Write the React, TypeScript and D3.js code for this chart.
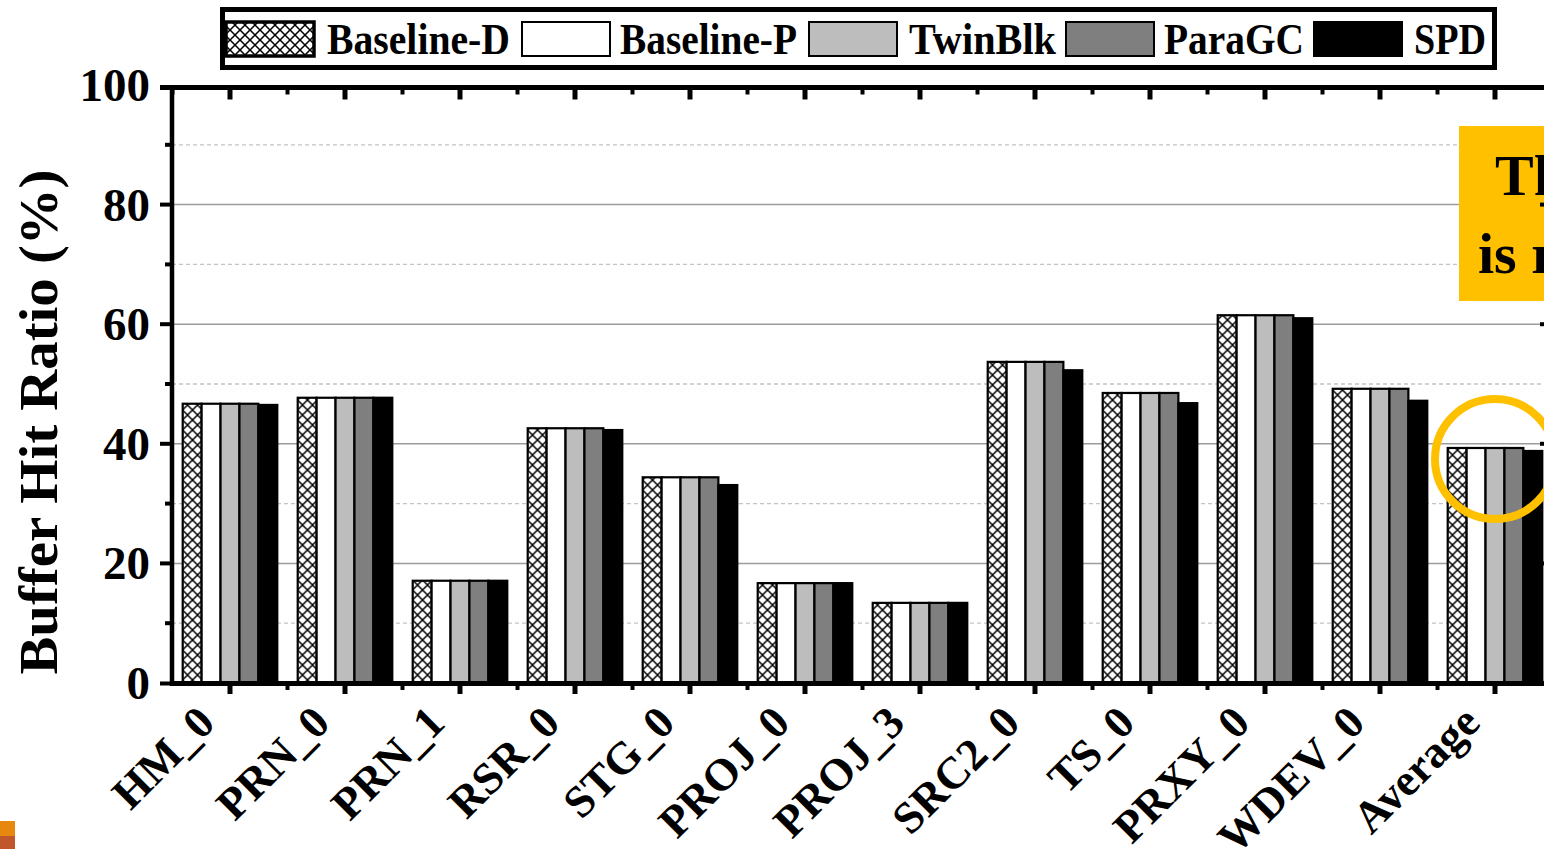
import React from "react";
import * as d3 from "d3";

const categories = ["HM_0", "PRN_0", "PRN_1", "RSR_0", "STG_0", "PROJ_0", "PROJ_3", "SRC2_0", "TS_0", "PRXY_0", "WDEV_0", "Average"];
const seriesNames = ["Baseline-D", "Baseline-P", "TwinBlk", "ParaGC", "SPD"];
const baselineD = [46.7, 47.7, 17.1, 42.6, 34.4, 16.7, 13.4, 53.7, 48.5, 61.5, 49.2, 39.3];
const baselineP = [46.7, 47.7, 17.1, 42.6, 34.4, 16.7, 13.4, 53.7, 48.5, 61.5, 49.2, 39.3];
const twinBlk = [46.7, 47.7, 17.1, 42.6, 34.4, 16.7, 13.4, 53.7, 48.5, 61.5, 49.2, 39.3];
const paraGC = [46.7, 47.7, 17.1, 42.6, 34.4, 16.7, 13.4, 53.7, 48.5, 61.5, 49.2, 39.3];
const spd = [46.5, 47.7, 17.1, 42.3, 33.1, 16.7, 13.4, 52.3, 46.8, 61.0, 47.2, 38.8];
const yTicks = [0, 20, 40, 60, 80, 100];
const yMinorTicks = [10, 30, 50, 70, 90];
const yLabel = "Buffer Hit Ratio (%)";
const calloutLines = ["The", "is r"];

const seriesValues = [baselineD, baselineP, twinBlk, paraGC, spd];
const fills = ["url(#xhatch)", "#ffffff", "#bdbdbd", "#7f7f7f", "#000000"];
const FONT = "'Liberation Serif', 'Times New Roman', serif";

export default function App() {
  const x = d3.scaleBand<string>().domain(categories).range([172.5, 172.5 + 115 * categories.length]);
  const xs = d3.scaleBand<string>().domain(seriesNames).range([0, x.bandwidth()]).paddingOuter(0.54);
  const y = d3.scaleLinear().domain([0, 100]).range([683, 85]);
  const left = 172;
  const right = 1553;
  const bottom = y(0);
  const top = y(100) + 2.5;

  const legendSw = [226, 522, 809, 1066, 1314];
  const legendTx = [327, 620, 909, 1164, 1414];
  const legendTw = [183, 177, 147, 140, 72];

  const avgCx = (x("Average") as number) + x.bandwidth() / 2;

  return (
    <svg width={1544} height={849} style={{ position: "absolute", left: 0, top: 0, display: "block", background: "#fff" }}>
      <defs>
        <pattern id="xhatch" patternUnits="userSpaceOnUse" width={10} height={10}>
          <rect width={10} height={10} fill="#fff" />
          <path d="M0,0 L10,10 M10,0 L0,10" stroke="#000" strokeWidth={1.5} />
        </pattern>
      </defs>

      {/* gridlines */}
      {yMinorTicks.map((t) => (
        <line key={"gm" + t} x1={left} x2={right} y1={y(t)} y2={y(t)} stroke="#c4c4c4" strokeWidth={1.3} strokeDasharray="4,3" />
      ))}
      {yTicks.filter((t) => t > 0 && t < 100).map((t) => (
        <line key={"gM" + t} x1={left} x2={right} y1={y(t)} y2={y(t)} stroke="#9c9c9c" strokeWidth={1.5} />
      ))}

      {/* callout box */}
      <rect x={1459} y={126} width={120} height={175} fill="#FFC000" />
      <text x={1495} y={195} fontFamily={FONT} fontWeight="bold" fontSize={58} fill="#000">{calloutLines[0]}</text>
      <text x={1478} y={273} fontFamily={FONT} fontWeight="bold" fontSize={58} fill="#000">{calloutLines[1]}</text>

      {/* bars */}
      {categories.map((c, i) => (
        <g key={c} transform={`translate(${x(c)},0)`}>
          {seriesNames.map((s, j) => {
            const v = seriesValues[j][i];
            return (
              <rect
                key={s}
                x={xs(s)}
                y={y(v)}
                width={xs.bandwidth()}
                height={bottom - y(v)}
                fill={fills[j]}
                stroke="#000"
                strokeWidth={2.2}
              />
            );
          })}
        </g>
      ))}

      {/* highlight ring */}
      <circle cx={avgCx} cy={y(39.3) + 11} r={60} fill="none" stroke="#FFC000" strokeWidth={8} />

      {/* axes */}
      <line x1={left} x2={left} y1={top - 2.5} y2={bottom + 3} stroke="#000" strokeWidth={4.5} />
      <line x1={160} x2={right} y1={top} y2={top} stroke="#000" strokeWidth={5} />
      <line x1={left - 2} x2={right} y1={bottom + 0.5} y2={bottom + 0.5} stroke="#000" strokeWidth={5} />
      <line x1={right} x2={right} y1={top} y2={bottom} stroke="#000" strokeWidth={4.5} />

      {/* left ticks */}
      {yTicks.map((t) => {
        const yy = t === 100 ? top : t === 0 ? bottom + 0.5 : y(t);
        return <line key={"lt" + t} x1={160} x2={left} y1={yy} y2={yy} stroke="#000" strokeWidth={4} />;
      })}
      {yMinorTicks.map((t) => (
        <line key={"lmt" + t} x1={165} x2={left} y1={y(t)} y2={y(t)} stroke="#000" strokeWidth={4} />
      ))}
      {/* right ticks (inward) */}
      {yTicks.filter((t) => t > 0 && t < 100).map((t) => (
        <line key={"rt" + t} x1={right - 13} x2={right} y1={y(t)} y2={y(t)} stroke="#000" strokeWidth={4} />
      ))}
      {/* top & bottom ticks */}
      {categories.map((c) => {
        const cx = (x(c) as number) + x.bandwidth() / 2;
        const bx = x(c) as number;
        return (
          <g key={"tk" + c}>
            <line x1={cx} x2={cx} y1={top} y2={top + 12} stroke="#000" strokeWidth={5} />
            <line x1={bx} x2={bx} y1={top} y2={top + 7} stroke="#000" strokeWidth={4} />
            <line x1={cx} x2={cx} y1={bottom} y2={bottom + 11} stroke="#000" strokeWidth={5} />
            {bx > left + 2 && <line x1={bx} x2={bx} y1={bottom} y2={bottom + 7} stroke="#000" strokeWidth={4} />}
          </g>
        );
      })}

      {/* y tick labels */}
      {yTicks.map((t) => (
        <text key={"yl" + t} x={150} y={y(t)} dy="0.34em" textAnchor="end" fontFamily={FONT} fontWeight="bold" fontSize={47} fill="#000">
          {t}
        </text>
      ))}

      {/* y axis label */}
      <text transform="translate(57,422) rotate(-90)" textAnchor="middle" fontFamily={FONT} fontWeight="bold" fontSize={54} textLength={505} lengthAdjust="spacingAndGlyphs" fill="#000">
        {yLabel}
      </text>

      {/* x labels */}
      {categories.map((c) => {
        const cx = (x(c) as number) + x.bandwidth() / 2;
        return (
          <text key={"xl" + c} transform={`translate(${cx - 13},725) rotate(-45)`} textAnchor="end" fontFamily={FONT} fontWeight="bold" fontSize={45} fill="#000">
            {c}
          </text>
        );
      })}

      {/* legend */}
      <rect x={222.5} y={9.5} width={1272} height={58} fill="#fff" stroke="#000" strokeWidth={5} />
      {seriesNames.map((s, j) => (
        <g key={"lg" + s}>
          <rect x={legendSw[j]} y={22} width={88} height={34} fill={fills[j]} stroke="#000" strokeWidth={j === 0 ? 3.5 : 2} />
          <text x={legendTx[j]} y={54} fontFamily={FONT} fontWeight="bold" fontSize={45} textLength={legendTw[j]} lengthAdjust="spacingAndGlyphs" fill="#000">
            {s}
          </text>
        </g>
      ))}

      {/* corner marks */}
      <rect x={0} y={821} width={15} height={15} fill="#E8870E" />
      <rect x={0} y={836} width={15} height={13} fill="#C0562C" />
    </svg>
  );
}
